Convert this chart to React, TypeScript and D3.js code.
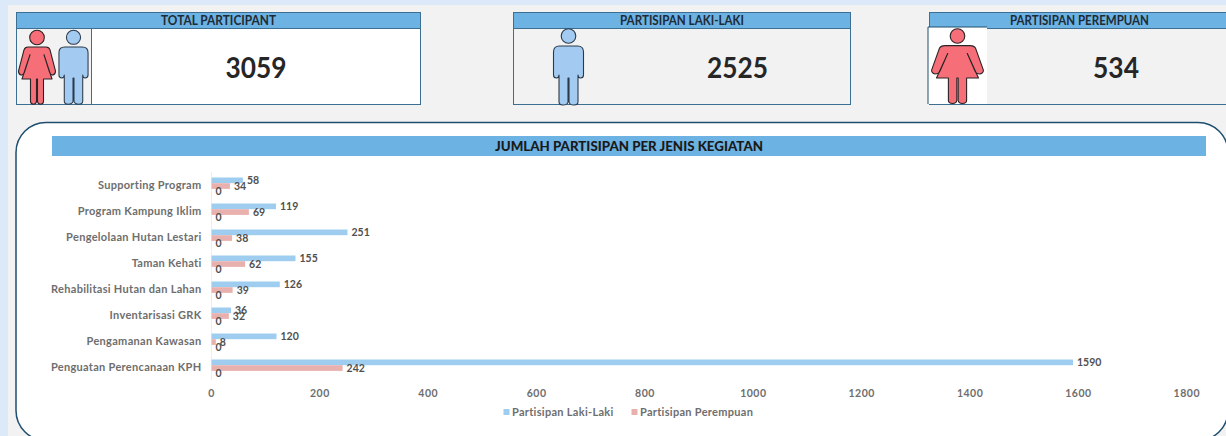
import React from "react";
import * as d3 from "d3";

const categories = ["Supporting Program","Program Kampung Iklim","Pengelolaan Hutan Lestari","Taman Kehati","Rehabilitasi Hutan dan Lahan","Inventarisasi GRK","Pengamanan Kawasan","Penguatan Perencanaan KPH"];
const male = [58,119,251,155,126,36,120,1590];
const female = [34,69,38,62,39,32,8,242];
const other = [0,0,0,0,0,0,0,0];
const ticks = [0,200,400,600,800,1000,1200,1400,1600,1800];
const BLUE = "#9fcdf0", RED = "#e9b1ae", HEAD = "#6cb2e3", DARK = "#1f4e6e", FONT = "Lato, sans-serif";

const Man = ({x, y, s}: {x:number;y:number;s:number}) => (
  <g transform={`translate(${x},${y}) scale(${s})`} fill="#a3cbf1" stroke="#2b3a4a" strokeWidth={1.1} strokeLinejoin="round">
    <circle cx={0} cy={8} r={7.3} />
    <path d="M-9 18 H9 Q15 18 15 24 V47 Q15 50 12 50 Q9.5 50 9.5 47 V50 V74 Q9.5 77 5.5 77 Q1 77 0.5 74 V50 H-0.5 V74 Q-1 77 -5.5 77 Q-9.5 77 -9.5 74 V47 Q-9.5 50 -12 50 Q-15 50 -15 47 V24 Q-15 18 -9 18Z"/>
  </g>
);
const Woman = ({x, y, sx, sy}: {x:number;y:number;sx:number;sy:number}) => (
  <g fill="#f66f78" stroke="#2b2326" strokeWidth={1.1} strokeLinejoin="round">
    <circle cx={x} cy={y+8} r={7.3} />
    <path transform={`translate(${x},${y}) scale(${sx},${sy})`} vectorEffect="non-scaling-stroke" d="M-9 18 H9 Q12 18 13 21 L18.5 43 Q18.5 46 16 47 Q13.5 47 12.5 44 L7 26 L15 51 H6.5 V74 Q6.5 77 3.5 77 Q0.7 77 0.5 74 V51 H-0.5 V74 Q-0.7 77 -3.5 77 Q-6.5 77 -6.5 74 V51 H-15 L-7 26 L-12.5 44 Q-13.5 47 -16 47 Q-18.5 46 -18.5 43 L-13 21 Q-12 18 -9 18Z"/>
  </g>
);

const Head = ({x,w,label,len}:{x:number;w:number;label:string;len:number}) => (
  <g>
    <rect x={x} y={12.5} width={w} height={16} fill={HEAD} stroke="#3d6f92" strokeWidth={1}/>
    <text x={x+w/2} y={25} textAnchor="middle" textLength={len} lengthAdjust="spacingAndGlyphs" fontFamily={FONT} fontWeight={700} fontSize={12.5} fill="#1e2a35">{label}</text>
  </g>
);

const Num = ({x,len,v}:{x:number;len:number;v:number}) => (
  <text x={x} y={78} textAnchor="middle" textLength={len} lengthAdjust="spacingAndGlyphs" fontFamily={FONT} fontWeight={700} fontSize={29} fill="#262626">{v}</text>
);

export default function App() {
  const x = d3.scaleLinear().domain([0,1800]).range([211.5,1186.8]);
  const y = d3.scaleBand<string>().domain(categories).range([172,380]);
  const bh = 5.7;
  const labelStyle = {fontFamily:FONT,fontWeight:700,fontSize:10.5,fill:"#505050"} as const;
  return (
    <svg width={1226} height={436} style={{position:"fixed",left:0,top:0,display:"block"}} viewBox="0 0 1226 436">
      <rect width={1226} height={436} fill="#dbe9f8"/>
      <rect x={8} y={5} width={1218} height={431} fill="#f2f2f2"/>

      <rect x={16.5} y={28.5} width={404} height={76} fill="#fff" stroke="#3d6f92"/>
      <rect x={16.5} y={28.5} width={75} height={76} fill="#f2f2f2" stroke="#3d6f92"/>
      <Head x={16.5} w={404} label="TOTAL PARTICIPANT" len={115}/>
      <Woman x={37} y={29.5} sx={1} sy={0.97}/>
      <Man x={73.5} y={29.5} s={0.97}/>
      <Num x={256} len={61} v={3059}/>

      <rect x={513.5} y={28.5} width={337} height={76} fill="#f2f2f2" stroke="#3d6f92"/>
      <Head x={513.5} w={337} label="PARTISIPAN LAKI-LAKI" len={124}/>
      <Man x={568.5} y={28} s={1}/>
      <Num x={737.5} len={61} v={2525}/>

      <rect x={929.5} y={28.5} width={300} height={76} fill="#f2f2f2" stroke="#3d6f92"/>
      <Head x={929.5} w={300} label="PARTISIPAN PEREMPUAN" len={139}/>
      <rect x={928} y={27} width={59} height={77} fill="#fff" stroke="none"/>
      <path d="M928 104 V27 H987" fill="none" stroke={DARK}/>
      <Woman x={957.5} y={28} sx={1.4} sy={0.98}/>
      <Num x={1116} len={46} v={534}/>

      <rect x={16} y={122.5} width={1212} height={318} rx={30} fill="#fff" stroke={DARK} strokeWidth={1.5}/>
      <rect x={52} y={136} width={1154} height={20} fill={HEAD}/>
      <text x={629} y={151} textAnchor="middle" textLength={268} lengthAdjust="spacingAndGlyphs" fontFamily={FONT} fontWeight={900} fontSize={13} fill="#1a1a1a">JUMLAH PARTISIPAN PER JENIS KEGIATAN</text>

      <line x1={211.5} x2={211.5} y1={172} y2={380} stroke="#eeeeee"/>
      {categories.map((c,i)=>{
        const top = y(c)! + y.bandwidth()/2 - 7.5;
        return (
          <g key={c}>
            <text x={201.5} y={top+11} textAnchor="end" fontFamily={FONT} fontWeight={700} fontSize={11} letterSpacing={0.3} fill="#6e6e6e">{c}</text>
            <rect x={x(0)} y={top} width={x(male[i])-x(0)} height={bh} fill={BLUE}/>
            <rect x={x(0)} y={top+bh} width={x(female[i])-x(0)} height={bh} fill={RED}/>
            <text x={x(male[i])+4} y={top+6} style={labelStyle}>{male[i]}</text>
            <text x={x(female[i])+4} y={top+bh+6.5} style={labelStyle}>{female[i]}</text>
            <text x={x(other[i])+4} y={top+2*bh+6} textAnchor="start" style={labelStyle}>{other[i]}</text>
          </g>
        );
      })}
      {ticks.map(t=>(
        <text key={t} x={x(t)} y={397} textAnchor="middle" fontFamily={FONT} fontWeight={700} fontSize={10.5} letterSpacing={0.5} fill="#6e6e6e">{t}</text>
      ))}
      <rect x={503.5} y={409} width={6} height={6} fill={BLUE}/>
      <text x={512} y={415.5} fontFamily={FONT} fontWeight={700} fontSize={11} letterSpacing={0.3} fill="#6e6e6e">Partisipan Laki-Laki</text>
      <rect x={631.5} y={409} width={6} height={6} fill={RED}/>
      <text x={640} y={415.5} fontFamily={FONT} fontWeight={700} fontSize={11} letterSpacing={0.3} fill="#6e6e6e">Partisipan Perempuan</text>
    </svg>
  );
}
